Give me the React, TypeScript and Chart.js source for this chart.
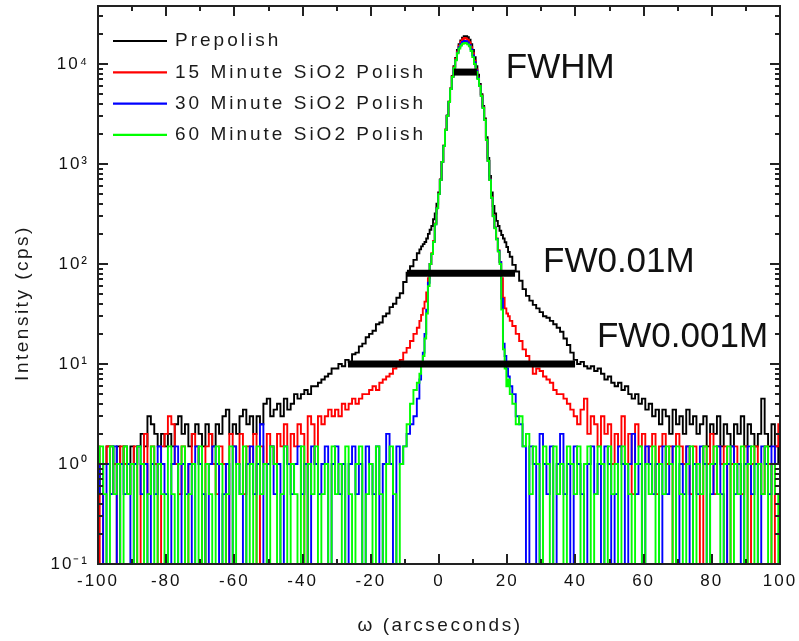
import React, { useEffect, useRef } from 'react';
import { Chart, registerables } from 'chart.js';

Chart.register(...registerables);

const FONT = '"Liberation Sans", Arial, Helvetica, sans-serif';

// ω sampling (arcseconds): 1" steps in the tails, 0.5" steps across the peak
const OMEGA = [
  -100, -99, -98, -97, -96, -95, -94, -93, -92, -91,
  -90, -89, -88, -87, -86, -85, -84, -83, -82, -81,
  -80, -79, -78, -77, -76, -75, -74, -73, -72, -71,
  -70, -69, -68, -67, -66, -65, -64, -63, -62, -61,
  -60, -59, -58, -57, -56, -55, -54, -53, -52, -51,
  -50, -49, -48, -47, -46, -45, -44, -43, -42, -41,
  -40, -39, -38, -37, -36, -35, -34, -33, -32, -31,
  -30, -29, -28, -27, -26, -25, -24, -23, -22, -21,
  -20, -19, -18, -17, -16, -15, -14, -13, -12, -11,
  -10, -9, -8, -7, -6,
  -5.5, -5, -4.5, -4, -3.5, -3, -2.5, -2, -1.5, -1,
  -0.5, 0, 0.5, 1, 1.5, 2, 2.5, 3, 3.5, 4,
  4.5, 5, 5.5, 6, 6.5, 7, 7.5, 8, 8.5, 9,
  9.5, 10, 10.5, 11, 11.5, 12, 12.5, 13, 13.5, 14,
  14.5, 15, 15.5, 16, 16.5, 17, 17.5, 18, 18.5, 19,
  19.5, 20, 20.5, 21,
  22, 23, 24, 25, 26, 27, 28, 29, 30, 31,
  32, 33, 34, 35, 36, 37, 38, 39, 40, 41,
  42, 43, 44, 45, 46, 47, 48, 49, 50, 51,
  52, 53, 54, 55, 56, 57, 58, 59, 60, 61,
  62, 63, 64, 65, 66, 67, 68, 69, 70, 71,
  72, 73, 74, 75, 76, 77, 78, 79, 80, 81,
  82, 83, 84, 85, 86, 87, 88, 89, 90, 91,
  92, 93, 94, 95, 96, 97, 98, 99, 100,
];

// Intensity (cps), one value per OMEGA entry
const PREPOLISH = [
  1, 0.5, 1, 1.5, 1.5, 1, 1.5, 1, 1.5, 1,
  1.5, 1, 1.5, 2, 1.5, 3, 2.5, 2, 1.5, 2,
  1.5, 2, 1.5, 2.5, 3, 2, 2.5, 1.5, 2, 2.5,
  2, 1.5, 2.5, 2, 1.5, 2.5, 2, 3, 3.5, 2,
  2.5, 2, 3, 3.5, 2.5, 3, 2, 3, 2.5, 4,
  4.5, 3, 3.5, 4, 3, 4.5, 3.5, 4, 5, 4.5,
  5, 5.5, 5, 6, 6, 6.5, 7, 7.5, 8, 9,
  9, 10, 9.5, 11, 10.5, 12.5, 13, 15, 16, 18.5,
  20, 21.5, 25, 26, 30, 32, 37, 40, 46, 51,
  66, 82, 95, 110, 128,
  140, 150, 158, 166, 180, 200, 220, 240, 280, 320,
  400, 520, 700, 1050, 1520, 2200, 3050, 4200, 5700, 7600,
  9500, 11500, 13800, 15800, 17200, 18300, 19000, 19000, 18500, 17500,
  15800, 13800, 11700, 9500, 7800, 6300, 5000, 3800, 2850, 1850,
  1150, 760, 520, 380, 320, 270, 240, 215, 195, 180,
  165, 148, 132, 118,
  98, 84, 68, 56, 48, 43, 39, 36, 33, 30,
  29, 27, 25, 23, 21, 18, 15.5, 13, 11, 10,
  10.5, 9.5, 9, 9.5, 8.5, 9, 8, 7, 7.5, 6.5,
  6, 6.5, 5.5, 6, 5, 4.5, 5, 4, 4.5, 3.5,
  4, 3, 3.5, 2.5, 3.5, 3, 2, 3.5, 2.5, 3,
  2, 3.5, 2.5, 3, 2, 2.5, 3, 1.5, 2.5, 2,
  3, 1.5, 2.5, 2, 1.5, 2.5, 2, 3, 1.5, 2.5,
  2, 1.5, 2, 4.5, 2, 1.5, 2.5, 1.5, 1,
];

const POLISH_15 = [
  1.5, 0, 1, 1.5, 0.5, 1, 0, 1.5, 1, 0.5,
  1, 1.5, 0, 1, 2, 0.5, 1.5, 1, 0, 1.5,
  2, 3, 2.5, 1, 0.5, 1.5, 0, 1, 2, 1.5,
  1, 0, 1.5, 2, 1, 0.5, 1.5, 1, 0, 2,
  1.5, 1, 2, 0.5, 1.5, 1, 2, 0, 1.5, 1,
  2, 1.5, 1, 2, 1.5, 2.5, 1, 2, 1.5, 2.5,
  2, 0, 3, 2.5, 1, 3, 2.5, 3, 3.5, 3,
  3.5, 3, 4, 3.5, 4, 4.5, 4, 4.5, 5, 5,
  5.5, 6, 5.5, 6.5, 7, 7.5, 8, 9, 9.5, 11,
  13, 14.5, 17, 20, 23,
  27, 31, 36, 42, 52, 72, 100, 128, 170, 255,
  365, 505, 695, 1050, 1520, 2200, 3030, 4200, 5650, 7500,
  9300, 11200, 13300, 15200, 16700, 17700, 18200, 18000, 17500, 16500,
  14700, 12800, 10800, 8800, 7300, 6100, 4850, 3700, 2780, 1760,
  1080, 700, 465, 305, 232, 180, 137, 105, 72, 46,
  36, 32, 30, 27,
  24, 20, 17, 14, 12, 10, 8, 9, 8.5, 7.5,
  7, 6.5, 5.5, 5, 5, 4.5, 4, 3.5, 3, 2.5,
  3.5, 4.5, 2, 3, 2.5, 1.5, 3, 2, 2.5, 1,
  2, 1.5, 3, 1, 2, 0.5, 2.5, 1.5, 2, 1,
  1.5, 2, 0.5, 1.5, 2, 1, 1.5, 0, 2, 1.5,
  1, 1.5, 0.5, 1.5, 1, 0, 1.5, 1, 2, 0.5,
  1.5, 1, 1.5, 0, 1, 1.5, 1, 0.5, 1.5, 0,
  1, 1.5, 1, 0.5, 1.5, 1, 0, 1.5, 2.5,
];

const POLISH_30 = [
  0.5, 1, 0, 1, 0.5, 1.5, 0, 1, 0.5, 1,
  0, 1, 1.5, 0.5, 1, 0, 1, 0.5, 1.5, 1,
  0.5, 0, 1, 1.5, 0, 1, 0.5, 1, 0, 1.5,
  1, 0.5, 0, 1, 1.5, 1, 0, 0.5, 1, 0,
  1.5, 1, 0.5, 0, 1, 1.5, 0.5, 1, 2.5, 0,
  1, 1.5, 0.5, 1, 0, 1.5, 1, 0.5, 1, 1.5,
  0.5, 1, 0, 1.5, 1, 0.5, 1, 1.5, 0, 1,
  1.5, 0.5, 1, 0, 1, 1.5, 0.5, 1, 0, 1.5,
  1, 0.5, 1.5, 0, 1, 2, 1, 0, 1.5, 1,
  1.5, 2, 2.5, 3, 4.5,
  7, 10, 13, 20, 35, 65, 100, 126, 166, 250,
  362, 500, 692, 1050, 1515, 2190, 3020, 4170, 5620, 7410,
  9150, 11000, 13000, 14700, 15900, 16600, 17000, 16900, 16400, 15500,
  14000, 12200, 10400, 8600, 7200, 6050, 4800, 3650, 2760, 1750,
  1075, 695, 460, 302, 230, 178, 135, 104, 45, 16,
  12, 9, 7.5, 6,
  5, 3, 2.5, 1.5, 0, 1.5, 1, 0, 2, 1,
  0.5, 1.5, 0, 1, 2, 0.5, 1, 0, 1.5, 1,
  0.5, 0, 1, 1.5, 0.5, 1, 0, 1.5, 1, 0,
  0.5, 1.5, 1, 0, 1, 2, 0.5, 1, 0, 1.5,
  1, 0.5, 1, 0, 1.5, 0.5, 1, 1.5, 0, 1,
  0.5, 1.5, 0, 1, 0.5, 1.5, 1, 0, 0.5, 1,
  1.5, 0.5, 0, 1, 1.5, 0.5, 1, 0, 1, 1.5,
  0.5, 1, 0, 1.5, 1, 0.5, 1.5, 1, 1,
];

const POLISH_60 = [
  1, 1.5, 0.5, 0, 1.5, 0.5, 1, 0, 1.5, 0.5,
  1, 0, 1.5, 1, 0, 0.5, 1.5, 0, 1, 0.5,
  0, 1.5, 0.5, 0, 1, 1.5, 0, 0.5, 1, 0,
  1.5, 0, 1, 0.5, 0, 1.5, 1, 0, 0.5, 1.5,
  0, 1, 0.5, 1.5, 0, 1, 0, 1.5, 0.5, 1,
  0, 1.5, 1, 0, 0.5, 1.5, 0, 1, 0.5, 0,
  1.5, 0, 1, 0.5, 1.5, 0, 0.5, 1, 0, 1.5,
  0.5, 1, 0, 1.5, 0.5, 0, 1, 1.5, 0, 0.5,
  1, 0, 1.5, 0.5, 0, 1, 1.5, 0.5, 0, 1,
  1.5, 2.5, 4, 5.5, 6.5,
  8, 10, 12, 18, 32, 60, 100, 126, 166, 250,
  360, 500, 690, 1050, 1510, 2190, 3020, 4170, 5620, 7410,
  9120, 10900, 12800, 14300, 15300, 15900, 16200, 16100, 15700, 15000,
  13500, 11700, 10000, 8320, 7080, 6030, 4790, 3630, 2750, 1740,
  1070, 690, 460, 300, 228, 176, 133, 100, 35, 14,
  9, 6, 7, 5,
  4, 2.5, 3, 1.5, 2, 0.5, 1.5, 1, 0, 1.5,
  1, 0, 1.5, 0.5, 1, 0, 1.5, 1, 0.5, 1.5,
  0, 1, 1.5, 0, 0.5, 1.5, 1, 0, 1.5, 0.5,
  1, 0, 1.5, 1, 0.5, 0, 1, 1.5, 0, 1,
  0.5, 1.5, 0, 1, 0.5, 1.5, 1, 0, 1.5, 0.5,
  0, 1, 1.5, 0, 1, 0.5, 1.5, 0, 1, 1.5,
  0.5, 0, 1, 1.5, 0, 1, 0.5, 1.5, 0, 1,
  1.5, 0, 1, 0.5, 1.5, 0, 1, 0.5, 0,
];

const SERIES_LABELS = [
  'Prepolish',
  '15 Minute SiO2 Polish',
  '30 Minute SiO2 Polish',
  '60 Minute SiO2 Polish',
];
const SERIES_COLORS = ['#000000', '#ff0000', '#0000ff', '#00ff00'];

// Width markers: name, start ω, end ω, intensity level
const WIDTH_LABELS = ['FWHM', 'FW0.01M', 'FW0.001M'];
const WIDTH_FROM = [4.4, -9.4, -26.7];
const WIDTH_TO = [11.1, 22.3, 39.9];
const WIDTH_LEVEL = [8300, 81, 10];

const X_TICKS = [-100, -80, -60, -40, -20, 0, 20, 40, 60, 80, 100];
const X_TICK_LABELS = ['-100', '-80', '-60', '-40', '-20', '0', '20', '40', '60', '80', '100'];
const Y_TICKS = [0.1, 1, 10, 100, 1000, 10000];
const Y_TICK_LABELS = ['10⁻¹', '10⁰', '10¹', '10²', '10³', '10⁴'];

const X_TITLE = 'ω (arcseconds)';
const Y_TITLE = 'Intensity (cps)';

const ZERO_FLOOR = 0.01; // zero-count channels drop below the axis floor

function toPoints(values: number[]) {
  return OMEGA.map((x, i) => ({ x, y: values[i] > 0 ? values[i] : ZERO_FLOOR }));
}

const framePlugin = {
  id: 'originFrame',
  beforeDraw(chart: any) {
    chart.ctx.letterSpacing = '2px';
  },
  afterDatasetsDraw(chart: any) {
    const { ctx, chartArea: a, scales } = chart;
    const xs = scales.x;
    const ys = scales.y;
    ctx.save();
    ctx.strokeStyle = '#222';
    ctx.lineWidth = 2;
    ctx.beginPath();
    for (let v = -100; v <= 100; v += 10) {
      const px = Math.round(xs.getPixelForValue(v));
      const len = v % 20 === 0 ? 10 : 5;
      ctx.moveTo(px, a.bottom);
      ctx.lineTo(px, a.bottom - len);
      ctx.moveTo(px, a.top);
      ctx.lineTo(px, a.top + len);
    }
    for (let d = -1; d <= 4; d++) {
      for (let k = 1; k <= 9; k++) {
        const v = k * Math.pow(10, d);
        if (v < ys.min || v > ys.max) continue;
        const py = Math.round(ys.getPixelForValue(v));
        const len = k === 1 ? 10 : 5;
        ctx.moveTo(a.left, py);
        ctx.lineTo(a.left + len, py);
        ctx.moveTo(a.right, py);
        ctx.lineTo(a.right - len, py);
      }
    }
    ctx.stroke();
    ctx.strokeRect(a.left, a.top, a.right - a.left, a.bottom - a.top);
    ctx.restore();
  },
};

const textPlugin = {
  id: 'originText',
  afterDraw(chart: any, _args: any, opts: any) {
    const { ctx, scales } = chart;
    ctx.save();
    // width annotations
    ctx.letterSpacing = '0px';
    ctx.fillStyle = '#111';
    ctx.font = `${opts.annotationSize}px ${FONT}`;
    ctx.textAlign = 'left';
    ctx.textBaseline = 'alphabetic';
    opts.annotations.forEach((an: any, i: number) => {
      ctx.fillText(WIDTH_LABELS[i], scales.x.getPixelForValue(an.x), scales.y.getPixelForValue(an.y));
    });
    // legend
    const lg = opts.legend;
    ctx.font = `${lg.size}px ${FONT}`;
    ctx.letterSpacing = `${lg.spacing}px`;
    ctx.textBaseline = 'middle';
    chart.data.datasets
      .filter((d: any) => d.inLegend)
      .forEach((d: any, i: number) => {
        const y = lg.top + i * lg.rowHeight;
        ctx.strokeStyle = d.borderColor;
        ctx.lineWidth = lg.lineWidth;
        ctx.beginPath();
        ctx.moveTo(lg.left, y);
        ctx.lineTo(lg.left + lg.lineLength, y);
        ctx.stroke();
        ctx.fillStyle = '#1a1a1a';
        ctx.fillText(d.label, lg.left + lg.lineLength + lg.gap, y);
      });
    // axis titles
    const t = opts.titles;
    ctx.font = `${t.size}px ${FONT}`;
    ctx.letterSpacing = `${t.spacing}px`;
    ctx.fillStyle = '#1a1a1a';
    ctx.textAlign = 'center';
    ctx.textBaseline = 'middle';
    ctx.fillText(X_TITLE, t.xPos[0], t.xPos[1]);
    ctx.translate(t.yPos[0], t.yPos[1]);
    ctx.rotate(-Math.PI / 2);
    ctx.fillText(Y_TITLE, 0, 0);
    ctx.restore();
    ctx.letterSpacing = '0px';
  },
};

export default function App() {
  const ref = useRef<HTMLCanvasElement | null>(null);

  useEffect(() => {
    const canvas = ref.current;
    if (!canvas) return;
    const seriesValues = [PREPOLISH, POLISH_15, POLISH_30, POLISH_60];
    const datasets: any[] = [
      ...seriesValues.map((vals, i) => ({
        label: SERIES_LABELS[i],
        data: toPoints(vals),
        borderColor: SERIES_COLORS[i],
        backgroundColor: SERIES_COLORS[i],
        borderWidth: 1.9,
        pointRadius: 0,
        stepped: 'middle',
        fill: false,
        order: 4 - i,
        inLegend: true,
      })),
      ...WIDTH_LABELS.map((label, i) => ({
        label,
        data: [
          { x: WIDTH_FROM[i], y: WIDTH_LEVEL[i] },
          { x: WIDTH_TO[i], y: WIDTH_LEVEL[i] },
        ],
        borderColor: '#000',
        backgroundColor: '#000',
        borderWidth: 7,
        borderCapStyle: 'butt',
        pointRadius: 0,
        fill: false,
        order: 0,
        inLegend: false,
      })),
    ];

    const chart = new Chart(canvas, {
      type: 'line',
      data: { datasets },
      plugins: [framePlugin, textPlugin],
      options: {
        responsive: false,
        maintainAspectRatio: false,
        devicePixelRatio: 1,
        animation: false,
        events: [],
        layout: { padding: { left: 0, top: 6, right: 19, bottom: 0 } },
        plugins: {
          legend: { display: false },
          tooltip: { enabled: false },
          originText: {
            annotationSize: 35,
            annotations: [
              { x: 19.6, y: 7250 },
              { x: 30.5, y: 83 },
              { x: 46.3, y: 14.8 },
            ],
            legend: { left: 113, lineLength: 54, gap: 8, top: 41, rowHeight: 31.3, size: 19, spacing: 3, lineWidth: 2.2 },
            titles: { size: 19, spacing: 2.5, xPos: [440, 626], yPos: [23, 303] },
          },
        } as any,
        scales: {
          x: {
            type: 'linear',
            min: -100,
            max: 100,
            grid: { display: false, drawTicks: false },
            border: { display: false },
            afterFit: (scale: any) => {
              scale.height = 77;
              scale.paddingLeft = 0;
              scale.paddingRight = 0;
            },
            afterBuildTicks: (scale: any) => { scale.ticks = X_TICKS.map((v) => ({ value: v })); },
            ticks: {
              autoSkip: false,
              maxRotation: 0,
              padding: 7,
              color: '#111',
              font: { family: FONT, size: 17 },
              callback: (v: any) => {
                const i = X_TICKS.indexOf(Number(v));
                return i >= 0 ? X_TICK_LABELS[i] : '';
              },
            },
          },
          y: {
            type: 'logarithmic',
            min: 0.1,
            max: 38000,
            grid: { display: false, drawTicks: false },
            border: { display: false },
            afterFit: (scale: any) => {
              scale.width = 98;
              scale.paddingTop = 0;
              scale.paddingBottom = 0;
            },
            afterBuildTicks: (scale: any) => { scale.ticks = Y_TICKS.map((v) => ({ value: v })); },
            ticks: {
              autoSkip: false,
              padding: 9,
              color: '#111',
              font: { family: FONT, size: 17 },
              callback: (v: any) => {
                const i = Y_TICKS.indexOf(Number(v));
                return i >= 0 ? Y_TICK_LABELS[i] : '';
              },
            },
          },
        },
      } as any,
    });
    return () => chart.destroy();
  }, []);

  return (
    <div style={{ position: 'absolute', left: 0, top: 0, width: 799, height: 641, background: '#fff' }}>
      <canvas ref={ref} width={799} height={641} style={{ display: 'block', width: 799, height: 641 }} />
    </div>
  );
}
